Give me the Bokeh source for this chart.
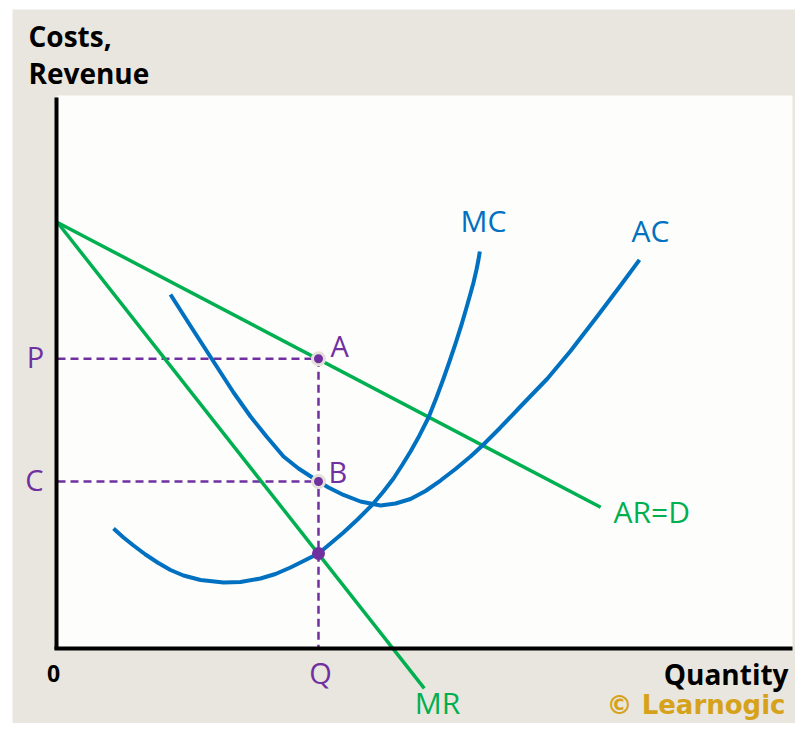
from bokeh.plotting import figure
from bokeh.models import Range1d, LinearAxis, FixedTicker, ColumnDataSource
from bokeh.core.properties import value
from bokeh.embed import file_html
from bokeh.resources import INLINE

# ---------------- data (quantity, cost/revenue units) ----------------
ar_quantity = [0.0, 73.9]
ar_revenue = [77.0, 25.4]

mr_quantity = [0.0, 49.9]
mr_revenue = [77.0, -7.4]

mc_quantity = [7.62, 8.98, 10.34, 11.97, 13.61, 15.37, 17.14, 19.46, 22.59, 24.90,
               27.62, 29.66, 31.70, 33.61, 35.51, 37.14, 38.91, 40.82, 42.86, 44.35,
               45.71, 46.94, 48.03, 49.25, 50.48, 51.56, 52.52, 53.33, 54.15, 54.97,
               55.65, 56.19, 56.60, 57.01, 57.28, 57.46]
mc_cost = [21.56, 19.93, 18.48, 16.85, 15.40, 14.04, 13.04, 12.23, 11.78, 11.87,
           12.50, 13.32, 14.49, 15.76, 17.03, 18.84, 20.83, 23.19, 25.91, 28.26,
           30.62, 33.15, 35.51, 38.41, 41.67, 45.29, 48.73, 51.81, 55.07, 58.51,
           61.59, 64.13, 66.12, 68.48, 70.29, 71.74]

ac_quantity = [15.37, 18.23, 21.09, 23.95, 26.26, 28.44, 30.75, 32.79, 35.51, 36.87,
               38.91, 41.22, 43.95, 45.99, 48.03, 50.07, 52.11, 54.15, 56.19, 57.82,
               60.27, 62.99, 66.67, 69.80, 73.47, 76.60, 79.18]
ac_cost = [63.95, 57.97, 52.08, 46.20, 41.85, 38.22, 34.60, 32.43, 30.07, 28.99,
           27.63, 26.45, 25.72, 26.09, 26.90, 28.35, 30.25, 32.34, 34.60, 36.59,
           39.86, 43.66, 48.73, 53.71, 60.05, 65.58, 70.22]

q_star = 35.51      # profit-maximising quantity Q
p_star = 52.3       # price P (on AR)
c_star = 30.07      # average cost C (on AC)
mc_mr_level = 17.03  # MC = MR

plot_area = dict(left=[0], right=[100], bottom=[0], top=[100])
panel_area = dict(left=[-6.12], right=[101], bottom=[-14], top=[115.58])

# text labels
curve_labels = ["MC", "AC", "AR=D", "MR"]
curve_label_x = [54.83, 78.10, 75.65, 48.6]
curve_label_y = [77.35, 75.54, 24.63, -9.96]
curve_label_colors = ["#0070c0", "#0070c0", "#00b050", "#00b050"]

point_labels = ["P", "C", "Q", "A", "B"]
point_label_x = [-2.99, -3.13, 35.78, 37.14, 36.87]
point_label_y = [52.64, 30.36, -4.60, 54.64, 31.81]
point_label_align = ["center", "center", "center", "left", "left"]

axis_titles = ["Costs,", "Revenue", "Quantity", "0"]
axis_title_x = [-3.95, -3.95, 99.46, -0.54]
axis_title_y = [110.82, 104.15, -4.85, -4.67]
axis_title_align = ["left", "left", "right", "center"]
axis_title_size = ["28px", "28px", "28px", "23px"]

credit = ["© Learnogic"]
credit_x = [99.05]
credit_y = [-10.44]

# ---------------- figure ----------------
BLUE = "#0070c0"
GREEN = "#00b050"
PURPLE = "#7030a0"

p = figure(width=795, height=723,
           x_range=Range1d(-7.755, 100.408), y_range=Range1d(-13.768, 117.210),
           x_axis_type=None, y_axis_type=None, min_border=0,
           toolbar_location=None, output_backend="svg",
           background_fill_color="white", border_fill_color="white",
           outline_line_color=None)
p.grid.visible = False

p.quad(source=ColumnDataSource(panel_area), left="left", right="right",
       bottom="bottom", top="top", fill_color="#e9e6df", line_color=None)
p.quad(source=ColumnDataSource(plot_area), left="left", right="right",
       bottom="bottom", top="top", fill_color="#fdfdfc", line_color=None)

# axes (lines only)
yax = LinearAxis(fixed_location=-0.2, bounds=(-0.4, 99.6), ticker=FixedTicker(ticks=[]),
                 axis_line_width=4, axis_line_color="black",
                 major_tick_out=0, major_tick_in=0, minor_tick_out=0, minor_tick_in=0,
                 major_label_standoff=0, major_label_text_font_size="0px")
xax = LinearAxis(fixed_location=-0.2, bounds=(-0.4, 100.0), ticker=FixedTicker(ticks=[]),
                 axis_line_width=4, axis_line_color="black",
                 major_tick_out=0, major_tick_in=0, minor_tick_out=0, minor_tick_in=0,
                 major_label_standoff=0, major_label_text_font_size="0px")
p.add_layout(yax, "left")
p.add_layout(xax, "below")

# dashed guides
p.segment(x0=[0, 0, q_star], y0=[p_star, c_star, p_star],
          x1=[q_star, q_star, q_star], y1=[p_star, c_star, 0],
          line_color=PURPLE, line_width=2.5, line_dash="8 5")

# revenue lines
p.line(ar_quantity, ar_revenue, line_color=GREEN, line_width=3.5)
p.line(mr_quantity, mr_revenue, line_color=GREEN, line_width=3.5)

# cost curves
p.line(mc_quantity, mc_cost, line_color=BLUE, line_width=4, line_join="round")
p.line(ac_quantity, ac_cost, line_color=BLUE, line_width=4, line_join="round")

# points
p.scatter([q_star, q_star], [p_star, c_star], size=12, fill_color=PURPLE,
          line_color="#e4e0d8", line_width=3)
p.scatter([q_star], [mc_mr_level], size=13, fill_color=PURPLE, line_color=None)

# labels
p.text(source=ColumnDataSource(dict(x=curve_label_x, y=curve_label_y, t=curve_labels,
                                    c=curve_label_colors)),
       x="x", y="y", text="t", text_color="c", text_font=value("Open Sans"),
       text_font_size="30px", text_baseline="alphabetic", text_align="left")

p.text(source=ColumnDataSource(dict(x=point_label_x, y=point_label_y, t=point_labels,
                                    a=point_label_align)),
       x="x", y="y", text="t", text_color=PURPLE, text_font=value("Open Sans"),
       text_font_size="29px", text_baseline="alphabetic", text_align="a")

p.text(source=ColumnDataSource(dict(x=axis_title_x, y=axis_title_y, t=axis_titles,
                                    a=axis_title_align, s=axis_title_size)),
       x="x", y="y", text="t", text_color="black", text_font=value("Open Sans"),
       text_font_style="bold", text_font_size="s", text_baseline="alphabetic",
       text_align="a")

p.text(x=credit_x, y=credit_y, text=credit, text_color="#d6a21c",
       text_font=value("DejaVu Sans"), text_font_style="bold",
       text_font_size="26px", text_baseline="alphabetic", text_align="right")

open("out.html", "w").write(file_html(p, INLINE))
